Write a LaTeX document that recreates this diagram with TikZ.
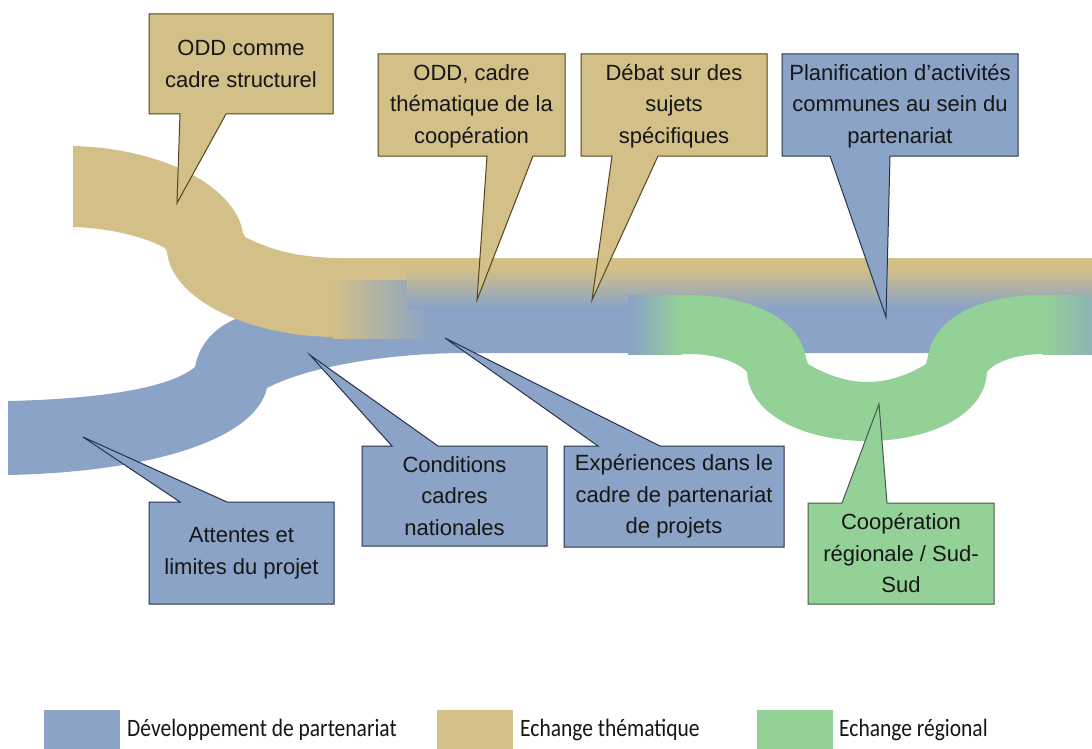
\documentclass[tikz,border=0pt]{standalone}
\usepackage{fontspec}
\setmainfont{Liberation Sans}
\newfontfamily\legendfont[FakeStretch=0.86]{Carlito}
\definecolor{bandblue}{RGB}{138,163,198}
\definecolor{bandtan}{RGB}{210,192,136}
\definecolor{bandgreen}{RGB}{148,209,151}
\definecolor{edgetan}{RGB}{88,68,28}
\definecolor{edgeblue}{RGB}{38,50,78}
\definecolor{edgegreen}{RGB}{70,88,72}
\definecolor{txt}{RGB}{22,22,22}
\tikzset{
  tancall/.style={fill=bandtan, draw=edgetan, line width=1pt, line join=miter},
  bluecall/.style={fill=bandblue, draw=edgeblue, line width=1pt, line join=miter},
  greencall/.style={fill=bandgreen, draw=edgegreen, line width=1pt, line join=miter},
  calltext/.style={align=center, text=txt, inner sep=0pt, font=\fontsize{22}{31.5}\selectfont},
  legtext/.style={anchor=west, text=txt, inner sep=0pt, font=\legendfont\fontsize{25}{28}\selectfont},
}
\begin{document}
\begin{tikzpicture}[x=1pt,y=-1pt]
\useasboundingbox (0,0) rectangle (1092,749);
\fill[white] (0,0) rectangle (1092,749);

% ---------- bands ----------
% blue band
\fill[bandblue] (8,401) .. controls (100,399) and (170,388) .. (195,367)
  .. controls (200,340) and (220,322) .. (250,314) -- (340,300) -- (1092,300)
  -- (1092,353) -- (460,353) .. controls (380,354) and (305,368) .. (267,388)
  .. controls (255,440) and (150,472) .. (8,475) -- cycle;
% tan band
\fill[bandtan] (73,146) .. controls (160,148) and (235,185) .. (243,233)
  -- (245,237) .. controls (275,252) and (300,257) .. (337,258) -- (342,258)
  -- (342,337) -- (337,337) .. controls (250,337) and (172,300) .. (167,252)
  -- (165,248) .. controls (145,237) and (110,228) .. (73,227) -- cycle;
\fill[bandtan] (336,257.5) rectangle (410,282);
\fill[bandtan] (405,257.5) rectangle (1092,270);
% transitions tan -> blue
\shade[left color=bandtan, right color=bandblue] (333,280) rectangle (430,338);
\shade[top color=bandtan, bottom color=bandblue] (407,268) rectangle (1092,308);
% green band
\fill[bandgreen] (690,295) .. controls (750,296) and (800,318) .. (806,358)
  -- (808,364) .. controls (830,377) and (850,382) .. (867,382)
  .. controls (885,382) and (905,377) .. (926,364) -- (928,356)
  .. controls (934,320) and (975,295) .. (1045,295) -- (1092,295)
  -- (1092,354) -- (1045,354) .. controls (1015,354) and (995,362) .. (987,372)
  .. controls (985,415) and (930,441) .. (867,441)
  .. controls (805,441) and (749,415) .. (747,372)
  .. controls (738,362) and (715,354) .. (690,354) -- (628,354) -- (628,295) -- cycle;
\shade[left color=bandblue, right color=bandgreen] (628,295) rectangle (682,354);
\shade[left color=bandgreen, right color=bandgreen!35!bandblue] (1043,295) rectangle (1092,354);

% ---------- callouts ----------
\coordinate (t1) at (177,203);
\coordinate (t2) at (477,300);
\coordinate (t3) at (592,300);
\coordinate (t4) at (886,317);
\coordinate (t5) at (83,437);
\coordinate (t6) at (310,355);
\coordinate (t7) at (445,338);
\coordinate (t8) at (879,404);

\draw[tancall] (149,14) -- (333,14) -- (333,114) -- (226,114) -- (t1) -- (180,114) -- (149,114) -- cycle;
\node[calltext] (c1) at (241,64) {ODD comme\\cadre structurel};

\draw[tancall] (378,54) -- (565,54) -- (565,156) -- (533,156) -- (t2) -- (487,156) -- (378,156) -- cycle;
\node[calltext] (c2) at (471.5,106) {ODD, cadre\\thématique de la\\coopération};

\draw[tancall] (581,54) -- (767,54) -- (767,156) -- (658,156) -- (t3) -- (612,156) -- (581,156) -- cycle;
\node[calltext] (c3) at (674,106) {Débat sur des\\sujets\\spécifiques};

\draw[bluecall] (782,54) -- (1018,54) -- (1018,156) -- (890,156) -- (t4) -- (830,156) -- (782,156) -- cycle;
\node[calltext] (c4) at (900,106) {Planification d’activités\\communes au sein du\\partenariat};

\draw[bluecall] (149,502) -- (180,502) -- (t5) -- (227,502) -- (334,502) -- (334,604) -- (149,604) -- cycle;
\node[calltext] (c5) at (241.5,553) {Attentes et\\limites du projet};

\draw[bluecall] (362,446) -- (392,446) -- (t6) -- (438,446) -- (547,446) -- (547,546) -- (362,546) -- cycle;
\node[calltext] (c6) at (454.5,496) {Conditions\\cadres\\nationales};

\draw[bluecall] (564,446) -- (598,446) -- (t7) -- (660,446) -- (784,446) -- (784,547) -- (564,547) -- cycle;
\node[calltext] (c7) at (674,496.5) {Expériences dans le\\cadre de partenariat\\de projets};

\draw[greencall] (808,503) -- (842,503) -- (t8) -- (887,503) -- (994,503) -- (994,604) -- (808,604) -- cycle;
\node[calltext] (c8) at (901,553.5) {Coopération\\régionale / Sud-\\Sud};

% ---------- legend ----------
\fill[bandblue] (44,710) rectangle (120,749);
\node[legtext] (l1) at (127,730) {Développement de partenariat};
\fill[bandtan] (437,710) rectangle (513,749);
\node[legtext] (l2) at (520,730) {Echange thématique};
\fill[bandgreen] (757,710) rectangle (833,749);
\node[legtext] (l3) at (839,730) {Echange régional};
\end{tikzpicture}
\end{document}
